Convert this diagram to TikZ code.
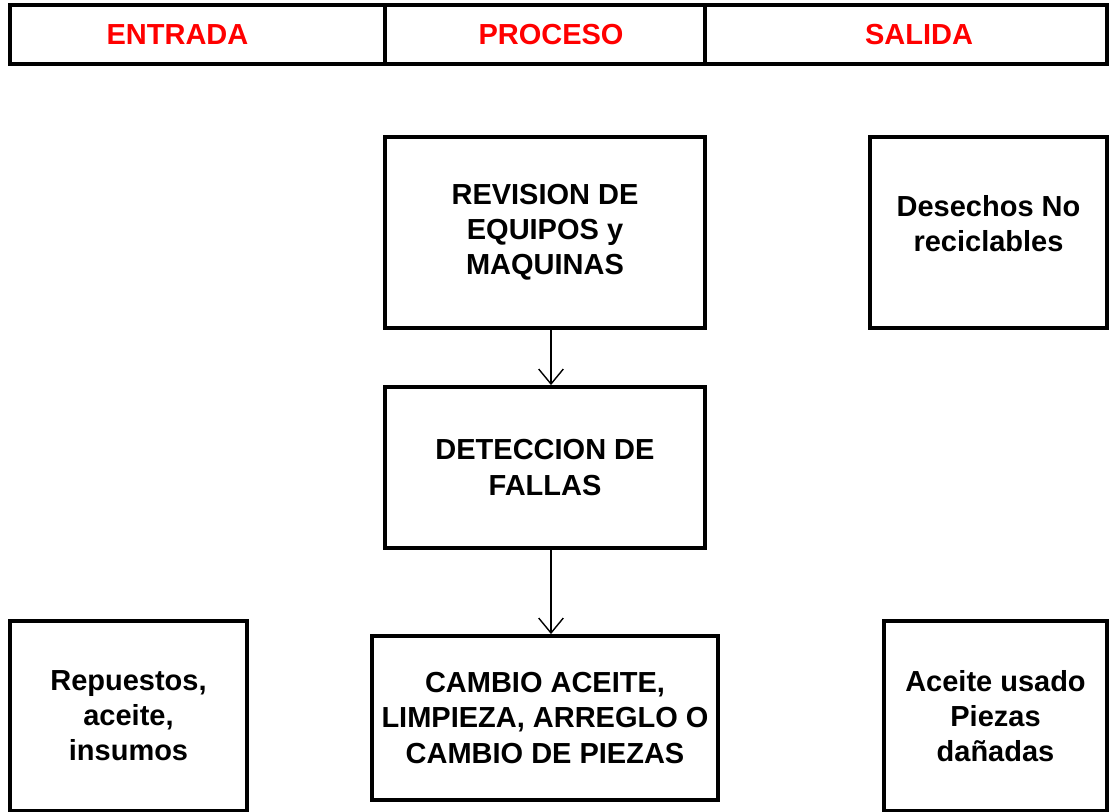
\documentclass[tikz,border=0pt]{standalone}
\usepackage{fontspec}
\setmainfont{Liberation Sans}
\usetikzlibrary{arrows.meta}

\begin{document}
\begin{tikzpicture}[x=0.02cm,y=-0.02cm,
  caja/.style={draw, line width=2.2pt, align=center, inner sep=0pt,
    font=\fontsize{16.5}{20}\selectfont\bfseries},
  titulo/.style={caja, text=red, minimum height=1.18cm},
  flecha/.style={line width=0.8pt, -{Straight Barb[length=8.5pt,width=14pt]}}]
\useasboundingbox (0,0) rectangle (1110,812);
% encabezado
\node[titulo, minimum width=7.5cm] (ent) at (197.5,34.5) {ENTRADA\hspace*{0.8cm}};
\node[titulo, minimum width=6.4cm] (pro) at (545,34.5) {\hspace*{0.24cm}PROCESO};
\node[titulo, minimum width=8.04cm] (sal) at (906,34.5) {\hspace*{0.52cm}SALIDA};
% proceso
\node[caja, minimum width=6.4cm, minimum height=3.82cm] (rev) at (545,232.5) {REVISION DE\\EQUIPOS y\\MAQUINAS};
\node[caja, minimum width=6.4cm, minimum height=3.22cm] (det) at (545,467.5) {DETECCION DE\\FALLAS};
\node[caja, minimum width=6.92cm, minimum height=3.28cm] (cam) at (545,718) {CAMBIO ACEITE,\\LIMPIEZA, ARREGLO O\\CAMBIO DE PIEZAS};
% entradas y salidas
\node[caja, minimum width=4.74cm, minimum height=3.82cm] (des) at (988.5,232.5) {Desechos No\\reciclables\\[-10pt]};
\node[caja, minimum width=4.74cm, minimum height=3.8cm] (rep) at (128.5,716) {Repuestos,\\aceite,\\insumos};
\node[caja, minimum width=4.46cm, minimum height=3.8cm] (ace) at (995.5,716) {Aceite usado\\Piezas\\dañadas};
\draw[flecha] ([xshift=0.12cm]rev.south) -- ([xshift=0.12cm]det.north);
\draw[flecha] ([xshift=0.12cm]det.south) -- ([xshift=0.12cm]cam.north);
\end{tikzpicture}
\end{document}
